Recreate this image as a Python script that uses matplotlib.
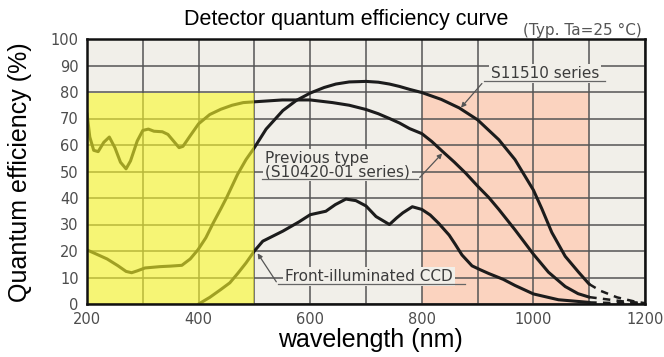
import matplotlib
matplotlib.use("Agg")
import matplotlib.pyplot as plt
from matplotlib.patches import Rectangle

# wavelength (nm) / quantum efficiency (%)
prev_wl = [200, 205, 212, 220, 230, 240, 250, 260, 270, 278, 290, 300, 310, 320,
           335, 345, 355, 365, 372, 385, 400, 420, 440, 460, 480, 500, 550, 600,
           640, 670, 700, 722, 742, 760, 778, 800, 818, 837, 858, 879, 900, 920,
           938, 967, 1000, 1027, 1057, 1080, 1100]
prev_qe = [72, 63, 58, 57.5, 61, 63, 59, 53.5, 51, 54, 61.5, 65.5, 66, 65.2,
           65, 64, 61.5, 59, 59.5, 63.5, 68, 71.5, 73.5, 75, 76, 76.3, 77, 77,
           76, 75, 73.4, 71.8, 70, 68.3, 66.2, 64.3, 61.3, 57.6, 53.6, 49.3, 44.5,
           40.2, 35.7, 28, 18.8, 12, 6.6, 3.9, 2.6]

s11510_wl = [200, 215, 236, 255, 270, 280, 290, 304, 331, 350, 370, 385, 399,
             413, 426, 440, 451, 470, 485, 500, 521, 551, 575, 600, 625, 646, 670,
             700, 722, 742, 760, 778, 800, 835, 867, 900, 938, 967, 1000, 1015,
             1033, 1057, 1081, 1100]
s11510_qe = [20.4, 19, 17, 14.5, 12.3, 11.8, 12.5, 13.6, 14.1, 14.3, 14.6, 17,
             20.5, 25, 30.5, 36, 40.5, 49, 54.5, 59, 66, 73, 76.8, 79.6, 81.7, 83,
             83.8, 84, 83.7, 83, 82.1, 81, 79.8, 77.2, 74, 69.5, 62, 54.5, 43, 36,
             27, 18, 12, 7.5]

ccd_wl = [400, 420, 440, 456, 470, 485, 500, 515, 551, 580, 600, 628, 645, 664,
          682, 700, 718, 742, 755, 766, 783, 800, 815, 830, 849, 860, 872, 890,
          904, 920, 946, 967, 1000, 1045, 1100]
ccd_qe = [0, 2.5, 5.5, 8, 11.5, 15.5, 20, 23.7, 27.5, 31, 33.7, 35, 37.5, 39.6,
          39, 37, 33, 30, 32.5, 34.4, 36.7, 35.7, 33.6, 30.5, 26, 22.5, 18.5, 14.4,
          13, 11.5, 9.3, 7, 3.8, 1.6, 0.6]

# dashed tails beyond 1100 nm
s11510_tail_wl = [1100, 1120, 1150, 1180, 1200]
s11510_tail_qe = [7.5, 5, 2.5, 1, 0.3]
prev_tail_wl = [1100, 1130, 1160, 1200]
prev_tail_qe = [2.6, 1.8, 1, 0.3]
ccd_tail_wl = [1100, 1200]
ccd_tail_qe = [0.6, 0.1]

x_ticks = [200, 300, 400, 500, 600, 700, 800, 900, 1000, 1100, 1200]
x_labels = ["200", "", "400", "", "600", "", "800", "", "1000", "", "1200"]
y_ticks = [0, 10, 20, 30, 40, 50, 60, 70, 80, 90, 100]

bg = "#F1EFE9"
fig = plt.figure(figsize=(6.64, 3.57), dpi=100)
ax = fig.add_axes([87 / 664, 53 / 357, 558 / 664, 265 / 357])
ax.set_facecolor(bg)

# shaded bands
ax.add_patch(Rectangle((800, 0), 300, 80, facecolor="#FBD3BF",
                       edgecolor="none", zorder=1))
# the yellow band sits on top, tinting lines beneath it olive
ax.add_patch(Rectangle((200, 0), 300, 79.5, facecolor=(250 / 255, 250 / 255, 40 / 255),
                       edgecolor="none", alpha=0.6, zorder=4))

ax.set_xticks(x_ticks)
ax.set_xticklabels(x_labels)
ax.set_yticks(y_ticks)
ax.grid(True, color="#555555", lw=1.1)
for gl in ax.get_xgridlines() + ax.get_ygridlines():
    gl.set_zorder(1.5)

line_style = dict(color="#1c1c1c", lw=2.2, zorder=3, solid_joinstyle="round",
                  solid_capstyle="round")
ax.plot(prev_wl, prev_qe, **line_style)
ax.plot(s11510_wl, s11510_qe, **line_style)
ax.plot(ccd_wl, ccd_qe, **line_style)
for wl, qe in [(s11510_tail_wl, s11510_tail_qe), (prev_tail_wl, prev_tail_qe),
               (ccd_tail_wl, ccd_tail_qe)]:
    ax.plot(wl, qe, color="#1c1c1c", lw=1.8, ls=(0, (3, 2.5)), zorder=3)

ax.set_xlim(200, 1200)
ax.set_ylim(0, 100)
ax.tick_params(length=0, labelsize=10.5, labelcolor="#4d4d4d")
ax.tick_params(axis="y", pad=6)
ax.tick_params(axis="x", pad=6)
for s in ax.spines.values():
    s.set_linewidth(1.8)
    s.set_color("#111111")
    s.set_zorder(5)

# callouts: text (on a background patch hiding the grid), underline, leader arrow
box = dict(boxstyle="square,pad=0.12", facecolor=bg, edgecolor="none")
lab_kw = dict(fontsize=11, color="#3c3c3c", family="DejaVu Sans", zorder=2,
              va="baseline", bbox=box)
line_kw = dict(color="#666666", lw=0.9, zorder=6)
arrow_kw = dict(arrowstyle="-|>", color="#555555", lw=0.9, mutation_scale=7)

ax.text(1021, 85.3, "S11510 series", ha="center", **lab_kw)
ax.plot([911, 1128], [84.0, 84.0], **line_kw)
ax.annotate("", xy=(867, 73.3), xytext=(911, 84.0), arrowprops=arrow_kw, zorder=6)

ax.text(519, 48.1, "Previous type\n(S10420-01 series)", ha="left",
        linespacing=0.88, **lab_kw)
ax.plot([514, 793], [47.0, 47.0], **line_kw)
ax.annotate("", xy=(840, 57.6), xytext=(793, 47.0), arrowprops=arrow_kw, zorder=6)

ax.text(555, 8.7, "Front-illuminated CCD", ha="left", **lab_kw)
ax.plot([542, 877], [7.5, 7.5], **line_kw)
ax.annotate("", xy=(503, 20), xytext=(542, 7.5), arrowprops=arrow_kw, zorder=6)

fig.text(346 / 664, 1 - 20 / 357, "Detector quantum efficiency curve",
         ha="center", va="center", fontsize=15.5, family="Liberation Sans")
fig.text(642 / 664, 1 - 30 / 357, "(Typ. Ta=25 °C)", ha="right", va="center",
         fontsize=11, color="#555555", family="DejaVu Sans")
fig.text(20 / 664, 1 - 172 / 357, "Quantum efficiency (%)", rotation=90,
         ha="center", va="center", fontsize=18, family="Liberation Sans")
fig.text(370 / 664, 1 - 340 / 357, "wavelength (nm)", ha="center", va="center",
         fontsize=18, family="Liberation Sans")

fig.savefig("out.png", dpi=100)
